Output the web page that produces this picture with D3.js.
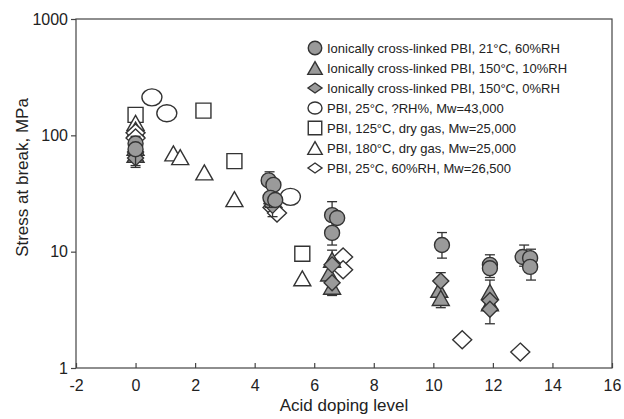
<!DOCTYPE html>
<html>
<head>
<meta charset="utf-8">
<script src="https://cdn.jsdelivr.net/npm/d3@7/dist/d3.min.js"></script>
<style>
html,body{margin:0;padding:0;background:#fff;}
svg{display:block;font-family:Arial,"Liberation Sans",sans-serif;}
</style>
</head>
<body>
<svg id="chart" width="624" height="419"></svg>
<script>
// ---------- data ----------
const xTicks = [-2, 0, 2, 4, 6, 8, 10, 12, 14, 16];
const yTicks = [1, 10, 100, 1000];
const xTitle = "Acid doping level";
const yTitle = "Stress at break, MPa";

const legendLabels = [
  "Ionically cross-linked PBI, 21°C, 60%RH",
  "Ionically cross-linked PBI, 150°C, 10%RH",
  "Ionically cross-linked PBI, 150°C, 0%RH",
  "PBI, 25°C, ?RH%, Mw=43,000",
  "PBI, 125°C, dry gas, Mw=25,000",
  "PBI, 180°C, dry gas, Mw=25,000",
  "PBI, 25°C, 60%RH, Mw=26,500"
];

// [doping level, stress]
const ionic21 = [[0,85],[0,76],[4.47,41],[4.63,37.5],[4.53,29],[4.69,27.8],[6.6,20.6],[6.77,19.5],[6.6,14.5],[10.29,11.4],[11.9,7.7],[11.9,7.2],[13.0,9.0],[13.25,8.8],[13.25,7.4]];
const ionic150rh10 = [[0,78],[0,68],[4.6,30],[6.6,8.5],[6.5,6.5],[6.6,5.0],[10.2,4.7],[10.25,4.0],[11.9,4.5],[11.9,3.6]];
const ionic150rh0 = [[0,72],[0,64],[4.6,25],[6.6,7.7],[6.6,5.4],[10.25,5.6],[11.9,3.8],[11.9,3.2]];
const pbi25mw43 = [[0.55,212],[1.05,155],[5.2,29.6]];
const pbi125 = [[0,150],[2.28,163],[3.32,60],[5.6,9.6]];
const pbi180 = [[0,128],[0,112],[1.27,70],[1.5,65],[2.31,48],[3.32,28.3],[5.6,5.9]];
const pbi25mw26 = [[0,105],[0,95],[4.6,24],[4.75,21.5],[6.97,9.0],[6.97,7.0],[10.97,1.75],[12.92,1.37]];

// error bars: [doping level, low, high]
const errIonic21 = [[0,55,98],[4.5,24,48.6],[6.6,11.4,26.9],[10.29,8.8,14.6],[11.9,6.0,9.4],[13.05,7.5,11.4],[13.28,5.7,10.5]];
const errIonic150rh10 = [[0,53,90],[6.6,4.2,10.3],[10.25,3.3,6.6],[11.9,2.4,5.7]];
const errIonic150rh0 = [[4.6,20,30]];

// ---------- layout ----------
const svg = d3.select("#chart");
const m = {left: 76, right: 612, top: 19, bottom: 368};
const x = d3.scaleLinear().domain([-2, 16]).range([m.left, m.right]);
const y = d3.scaleLog().domain([1, 1000]).range([m.bottom, m.top]);

const axisColor = "#444";
const markStroke = "#333";
const grayFill = "#9a9a9a";

// frame
svg.append("rect")
  .attr("x", m.left).attr("y", m.top)
  .attr("width", m.right - m.left).attr("height", m.bottom - m.top)
  .attr("fill", "none").attr("stroke", axisColor).attr("stroke-width", 1.2);

// x axis (ticks inward)
const gx = svg.append("g").attr("transform", `translate(0,${m.bottom})`)
  .call(d3.axisBottom(x).tickValues(xTicks).tickFormat(d => String(d)).tickSizeInner(-5).tickSizeOuter(0).tickPadding(12));
gx.select(".domain").remove();
gx.selectAll("line").attr("stroke", axisColor).attr("stroke-width", 1.2);
gx.selectAll("text").attr("font-size", 16).attr("fill", "#222").attr("dy", "0.71em");

// y axis (ticks outward)
const gy = svg.append("g").attr("transform", `translate(${m.left},0)`)
  .call(d3.axisLeft(y).tickValues(yTicks).tickFormat(d => String(d)).tickSizeInner(5).tickSizeOuter(0).tickPadding(3));
gy.select(".domain").remove();
gy.selectAll("line").attr("stroke", axisColor).attr("stroke-width", 1.2);
gy.selectAll("text").attr("font-size", 16).attr("fill", "#222");

// titles
svg.append("text").attr("x", (m.left + m.right) / 2).attr("y", 411)
  .attr("text-anchor", "middle").attr("font-size", 17).attr("fill", "#222").text(xTitle);
svg.append("text").attr("transform", `translate(28,${(m.top + m.bottom) / 2 - 16}) rotate(-90)`)
  .attr("text-anchor", "middle").attr("font-size", 17).attr("fill", "#222").text(yTitle);

// ---------- markers ----------
function shapePath(type, s) {
  if (type === "circle") {
    const r = 7.5 * s;
    return `M${-r},0A${r},${r} 0 1,0 ${r},0A${r},${r} 0 1,0 ${-r},0Z`;
  }
  if (type === "ellipse") {
    const rx = 10 * s, ry = 8.5 * s;
    return `M${-rx},0A${rx},${ry} 0 1,0 ${rx},0A${rx},${ry} 0 1,0 ${-rx},0Z`;
  }
  if (type === "square") {
    const h = 7.5 * s;
    return `M${-h},${-h}H${h}V${h}H${-h}Z`;
  }
  if (type === "triangle") {
    const w = 8.5 * s, h = 7.5 * s;
    return `M0,${-h}L${w},${h}L${-w},${h}Z`;
  }
  if (type === "diamond") {
    const w = 8 * s, h = 8 * s;
    return `M0,${-h}L${w},0L0,${h}L${-w},0Z`;
  }
  if (type === "diamondOpen") {
    const w = 9.5 * s, h = 9 * s;
    return `M0,${-h}L${w},0L0,${h}L${-w},0Z`;
  }
  if (type === "diamondFlat") {
    const w = 7 * s, h = 5 * s;
    return `M0,${-h}L${w},0L0,${h}L${-w},0Z`;
  }
}

const series = [
  {data: pbi25mw43, type: "ellipse", fill: "#fff"},
  {data: pbi125, type: "square", fill: "#fff"},
  {data: pbi180, type: "triangle", fill: "#fff"},
  {data: pbi25mw26, type: "diamondOpen", fill: "#fff"},
  {data: ionic150rh10, type: "triangle", fill: grayFill, err: errIonic150rh10},
  {data: ionic150rh0, type: "diamond", fill: grayFill, err: errIonic150rh0},
  {data: ionic21, type: "circle", fill: grayFill, err: errIonic21}
];

const plot = svg.append("g");
series.forEach(sr => {
  if (sr.err) {
    const eg = plot.append("g").attr("stroke", markStroke).attr("stroke-width", 1.3);
    sr.err.forEach(e => {
      const cx = x(e[0]);
      eg.append("line").attr("x1", cx).attr("x2", cx).attr("y1", y(e[1])).attr("y2", y(e[2]));
      eg.append("line").attr("x1", cx - 5).attr("x2", cx + 5).attr("y1", y(e[1])).attr("y2", y(e[1]));
      eg.append("line").attr("x1", cx - 5).attr("x2", cx + 5).attr("y1", y(e[2])).attr("y2", y(e[2]));
    });
  }
  plot.append("g").selectAll("path").data(sr.data).join("path")
    .attr("transform", d => `translate(${x(d[0])},${y(d[1])})`)
    .attr("d", shapePath(sr.type, 1))
    .attr("fill", sr.fill).attr("stroke", markStroke).attr("stroke-width", 1.4);
});

// ---------- legend ----------
const legTypes = ["circle", "triangle", "diamondFlat", "ellipse", "square", "triangle", "diamondFlat"];
const legFills = [grayFill, grayFill, grayFill, "#fff", "#fff", "#fff", "#fff"];
const legScale = [0.9, 0.85, 1, 0.7, 0.9, 0.85, 1];
const lg = svg.append("g");
legendLabels.forEach((lab, i) => {
  const ly = 48 + i * 20;
  lg.append("path").attr("transform", `translate(315,${ly})`)
    .attr("d", shapePath(legTypes[i], legScale[i]))
    .attr("fill", legFills[i]).attr("stroke", markStroke).attr("stroke-width", 1.4);
  lg.append("text").attr("x", 327).attr("y", ly).attr("dy", "0.35em")
    .attr("font-size", 13).attr("fill", "#222").text(lab);
});
</script>
</body>
</html>
